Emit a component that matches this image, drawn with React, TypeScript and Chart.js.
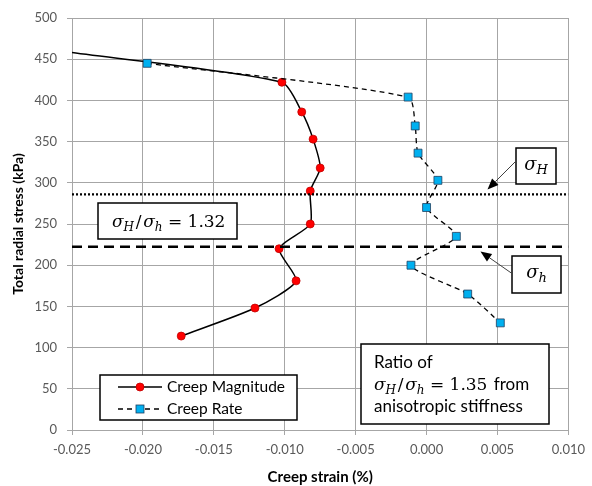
import React, { useEffect, useRef } from 'react';
import { Chart, registerables } from 'chart.js';

Chart.register(...registerables);

// ---- Data ----
const magnitudeStrain = [-0.025, -0.0102, -0.0088, -0.0080, -0.0075, -0.0082, -0.0082, -0.0104, -0.0092, -0.0121, -0.0173];
const magnitudeStress = [458, 422, 386, 353, 318, 290, 250, 220, 181, 148, 114];
const magnitudeMarker = [false, true, true, true, true, true, true, true, true, true, true];

const rateStrain = [-0.0197, -0.0013, -0.0008, -0.0006, 0.0008, 0.0000, 0.0021, -0.0011, 0.0029, 0.0052];
const rateStress = [445, 404, 369, 336, 303, 270, 235, 200, 165, 130];

const sigmaHLevel = 286;
const sigmahLevel = 222.5;

const xRange = [-0.025, 0.010];
const xStep = 0.005;
const yRange = [0, 500];
const yStep = 50;

const seriesLabels = ['Creep Magnitude', 'Creep Rate'];

const SANS = 'Lato, "Open Sans", sans-serif';
const MATH = '"DejaVu Serif", serif';
const HAIR = '\u200A';

type Part = { t: string; f: string; dy?: number };

function partsWidth(ctx: CanvasRenderingContext2D, parts: Part[]) {
  let w = 0;
  for (const p of parts) {
    ctx.font = p.f;
    w += ctx.measureText(p.t).width;
  }
  return w;
}

function drawParts(ctx: CanvasRenderingContext2D, parts: Part[], x: number, y: number) {
  for (const p of parts) {
    ctx.font = p.f;
    ctx.fillText(p.t, x, y + (p.dy || 0));
    x += ctx.measureText(p.t).width;
  }
  return x;
}

function ratioParts(size: number, value: string): Part[] {
  const sub = Math.round(size * 0.7);
  return [
    { t: 'σ', f: `italic ${size}px ${MATH}` },
    { t: 'H', f: `italic ${sub}px ${MATH}`, dy: size * 0.22 },
    { t: HAIR + '/' + HAIR, f: `${size}px ${MATH}` },
    { t: 'σ', f: `italic ${size}px ${MATH}` },
    { t: 'h', f: `italic ${sub}px ${MATH}`, dy: size * 0.22 },
    { t: ' = ' + value, f: `${size}px ${MATH}` },
  ];
}

function box(ctx: CanvasRenderingContext2D, x0: number, y0: number, x1: number, y1: number) {
  ctx.save();
  ctx.fillStyle = '#ffffff';
  ctx.fillRect(x0, y0, x1 - x0, y1 - y0);
  ctx.strokeStyle = '#000000';
  ctx.lineWidth = 1.5;
  ctx.setLineDash([]);
  ctx.strokeRect(x0, y0, x1 - x0, y1 - y0);
  ctx.restore();
}

function arrow(ctx: CanvasRenderingContext2D, x0: number, y0: number, x1: number, y1: number) {
  ctx.save();
  ctx.strokeStyle = '#404040';
  ctx.fillStyle = '#000000';
  ctx.lineWidth = 1;
  const ang = Math.atan2(y1 - y0, x1 - x0);
  const L = 11, W = 4.5;
  const bx = x1 - L * Math.cos(ang), by = y1 - L * Math.sin(ang);
  ctx.beginPath();
  ctx.moveTo(x0, y0);
  ctx.lineTo(bx, by);
  ctx.stroke();
  ctx.beginPath();
  ctx.moveTo(x1, y1);
  ctx.lineTo(bx + W * Math.sin(ang), by - W * Math.cos(ang));
  ctx.lineTo(bx - W * Math.sin(ang), by + W * Math.cos(ang));
  ctx.closePath();
  ctx.fill();
  ctx.restore();
}

const annotations = {
  id: 'annotations',
  afterDatasetsDraw(chart: any) {
    const ctx: CanvasRenderingContext2D = chart.ctx;
    ctx.save();
    ctx.textBaseline = 'alphabetic';
    ctx.fillStyle = '#000';

    // ratio 1.32 box
    box(ctx, 98, 203, 237, 239);
    const p132 = ratioParts(17, '1.32');
    const w132 = partsWidth(ctx, p132);
    ctx.fillStyle = '#000';
    drawParts(ctx, p132, 112, 227);

    // sigma H box
    box(ctx, 516, 148, 556, 184);
    const pH: Part[] = [
      { t: 'σ', f: `italic 18px ${MATH}` },
      { t: 'H', f: `italic 13px ${MATH}`, dy: 4 },
    ];
    ctx.fillStyle = '#000';
    drawParts(ctx, pH, 536 - partsWidth(ctx, pH) / 2, 170);
    arrow(ctx, 515, 162, 487.5, 189.5);

    // sigma h box
    box(ctx, 512, 256, 561, 293);
    const ph: Part[] = [
      { t: 'σ', f: `italic 18px ${MATH}` },
      { t: 'h', f: `italic 13px ${MATH}`, dy: 4 },
    ];
    ctx.fillStyle = '#000';
    drawParts(ctx, ph, 536.5 - partsWidth(ctx, ph) / 2, 278);
    arrow(ctx, 512, 273.5, 480.5, 251.5);

    // Ratio of 1.35 box
    box(ctx, 361, 344, 549, 424);
    ctx.fillStyle = '#000';
    ctx.font = `17px ${SANS}`;
    ctx.fillText('Ratio of', 374, 368);
    const p135 = ratioParts(17, '1.35');
    const xe = drawParts(ctx, p135, 374, 390);
    ctx.font = `17px ${SANS}`;
    ctx.fillText(' from', xe + 2, 390);
    ctx.fillText('anisotropic stiffness', 374, 412);

    // Legend
    box(ctx, 100, 375, 297, 420);
    const ly1 = 387, ly2 = 409;
    ctx.strokeStyle = '#000';
    ctx.lineWidth = 1.5;
    ctx.beginPath();
    ctx.moveTo(118, ly1);
    ctx.lineTo(162, ly1);
    ctx.stroke();
    ctx.beginPath();
    ctx.arc(140, ly1, 4, 0, Math.PI * 2);
    ctx.fillStyle = '#ff0000';
    ctx.fill();
    ctx.strokeStyle = '#c00000';
    ctx.lineWidth = 0.8;
    ctx.stroke();
    ctx.strokeStyle = '#000';
    ctx.lineWidth = 1.5;
    ctx.setLineDash([5, 4]);
    ctx.beginPath();
    ctx.moveTo(118, ly2);
    ctx.lineTo(162, ly2);
    ctx.stroke();
    ctx.setLineDash([]);
    ctx.fillStyle = '#00b0f0';
    ctx.fillRect(136, ly2 - 4, 8, 8);
    ctx.strokeStyle = '#1f3f5f';
    ctx.lineWidth = 0.8;
    ctx.strokeRect(136, ly2 - 4, 8, 8);
    ctx.fillStyle = '#000';
    ctx.font = `15.5px ${SANS}`;
    ctx.textBaseline = 'middle';
    ctx.fillText(seriesLabels[0], 167, ly1);
    ctx.fillText(seriesLabels[1], 167, ly2);
    ctx.restore();
  },
};

export default function App() {
  const ref = useRef<HTMLCanvasElement | null>(null);

  useEffect(() => {
    if (!ref.current) return;
    const magData = magnitudeStrain.map((x, i) => ({ x, y: magnitudeStress[i] }));
    const rateData = rateStrain.map((x, i) => ({ x, y: rateStress[i] }));
    const chart = new Chart(ref.current, {
      type: 'scatter',
      data: {
        datasets: [
          {
            label: 'sigmaH',
            data: [{ x: xRange[0], y: sigmaHLevel }, { x: xRange[1], y: sigmaHLevel }],
            showLine: true,
            borderColor: '#000',
            borderWidth: 2.2,
            borderDash: [2, 2],
            pointRadius: 0,
          },
          {
            label: 'sigmah',
            data: [{ x: xRange[0], y: sigmahLevel }, { x: xRange[1], y: sigmahLevel }],
            showLine: true,
            borderColor: '#000',
            borderWidth: 2.5,
            borderDash: [10, 6],
            pointRadius: 0,
          },
          {
            label: seriesLabels[1],
            data: rateData,
            showLine: true,
            tension: 0.22,
            borderColor: '#000',
            borderWidth: 1.3,
            borderDash: [5, 4],
            pointStyle: 'rect',
            pointRadius: 5.6,
            pointBackgroundColor: '#00b0f0',
            pointBorderColor: '#1f3f5f',
            pointBorderWidth: 0.8,
          },
          {
            label: seriesLabels[0],
            data: magData,
            showLine: true,
            tension: 0.22,
            borderColor: '#000',
            borderWidth: 1.5,
            pointStyle: 'circle',
            pointRadius: magnitudeMarker.map((m) => (m ? 4 : 0)),
            pointBackgroundColor: '#ff0000',
            pointBorderColor: '#c00000',
            pointBorderWidth: 0.8,
          },
        ],
      },
      options: {
        responsive: false,
        animation: false,
        layout: { padding: { top: 18, right: 22, left: 0, bottom: 0 } },
        plugins: {
          legend: { display: false },
          tooltip: { enabled: false },
        },
        scales: {
          x: {
            type: 'linear',
            min: xRange[0],
            max: xRange[1],
            ticks: {
              stepSize: xStep,
              color: '#595959',
              font: { family: SANS, size: 13 },
              padding: 7,
              maxRotation: 0,
              callback: (v: any) => (Math.abs(v) < 1e-9 ? '0.000' : Number(v).toFixed(3)),
            },
            grid: { color: '#a6a6a6', tickLength: 5, lineWidth: 1 },
            border: { color: '#a6a6a6' },
            title: {
              display: true,
              text: 'Creep strain (%)',
              color: '#000',
              font: { family: SANS, size: 15, weight: 'bold' },
              padding: { top: 0, bottom: 0 },
            },
            afterFit: (s: any) => { s.height = 56; },
          },
          y: {
            type: 'linear',
            min: yRange[0],
            max: yRange[1],
            ticks: {
              stepSize: yStep,
              color: '#595959',
              font: { family: SANS, size: 13 },
              padding: 10,
            },
            grid: { color: '#a6a6a6', tickLength: 5, lineWidth: 1 },
            border: { color: '#a6a6a6' },
            title: {
              display: true,
              text: 'Total radial stress (kPa)',
              color: '#000',
              font: { family: SANS, size: 14, weight: 'bold' },
              padding: { top: 10, bottom: 0 },
            },
            afterFit: (s: any) => { s.width = 72; },
          },
        },
      },
      plugins: [annotations],
    });
    return () => chart.destroy();
  }, []);

  return (
    <div style={{ position: 'absolute', left: 0, top: 0, width: 592, height: 486, background: '#fff' }}>
      <canvas ref={ref} width={592} height={486} />
    </div>
  );
}
